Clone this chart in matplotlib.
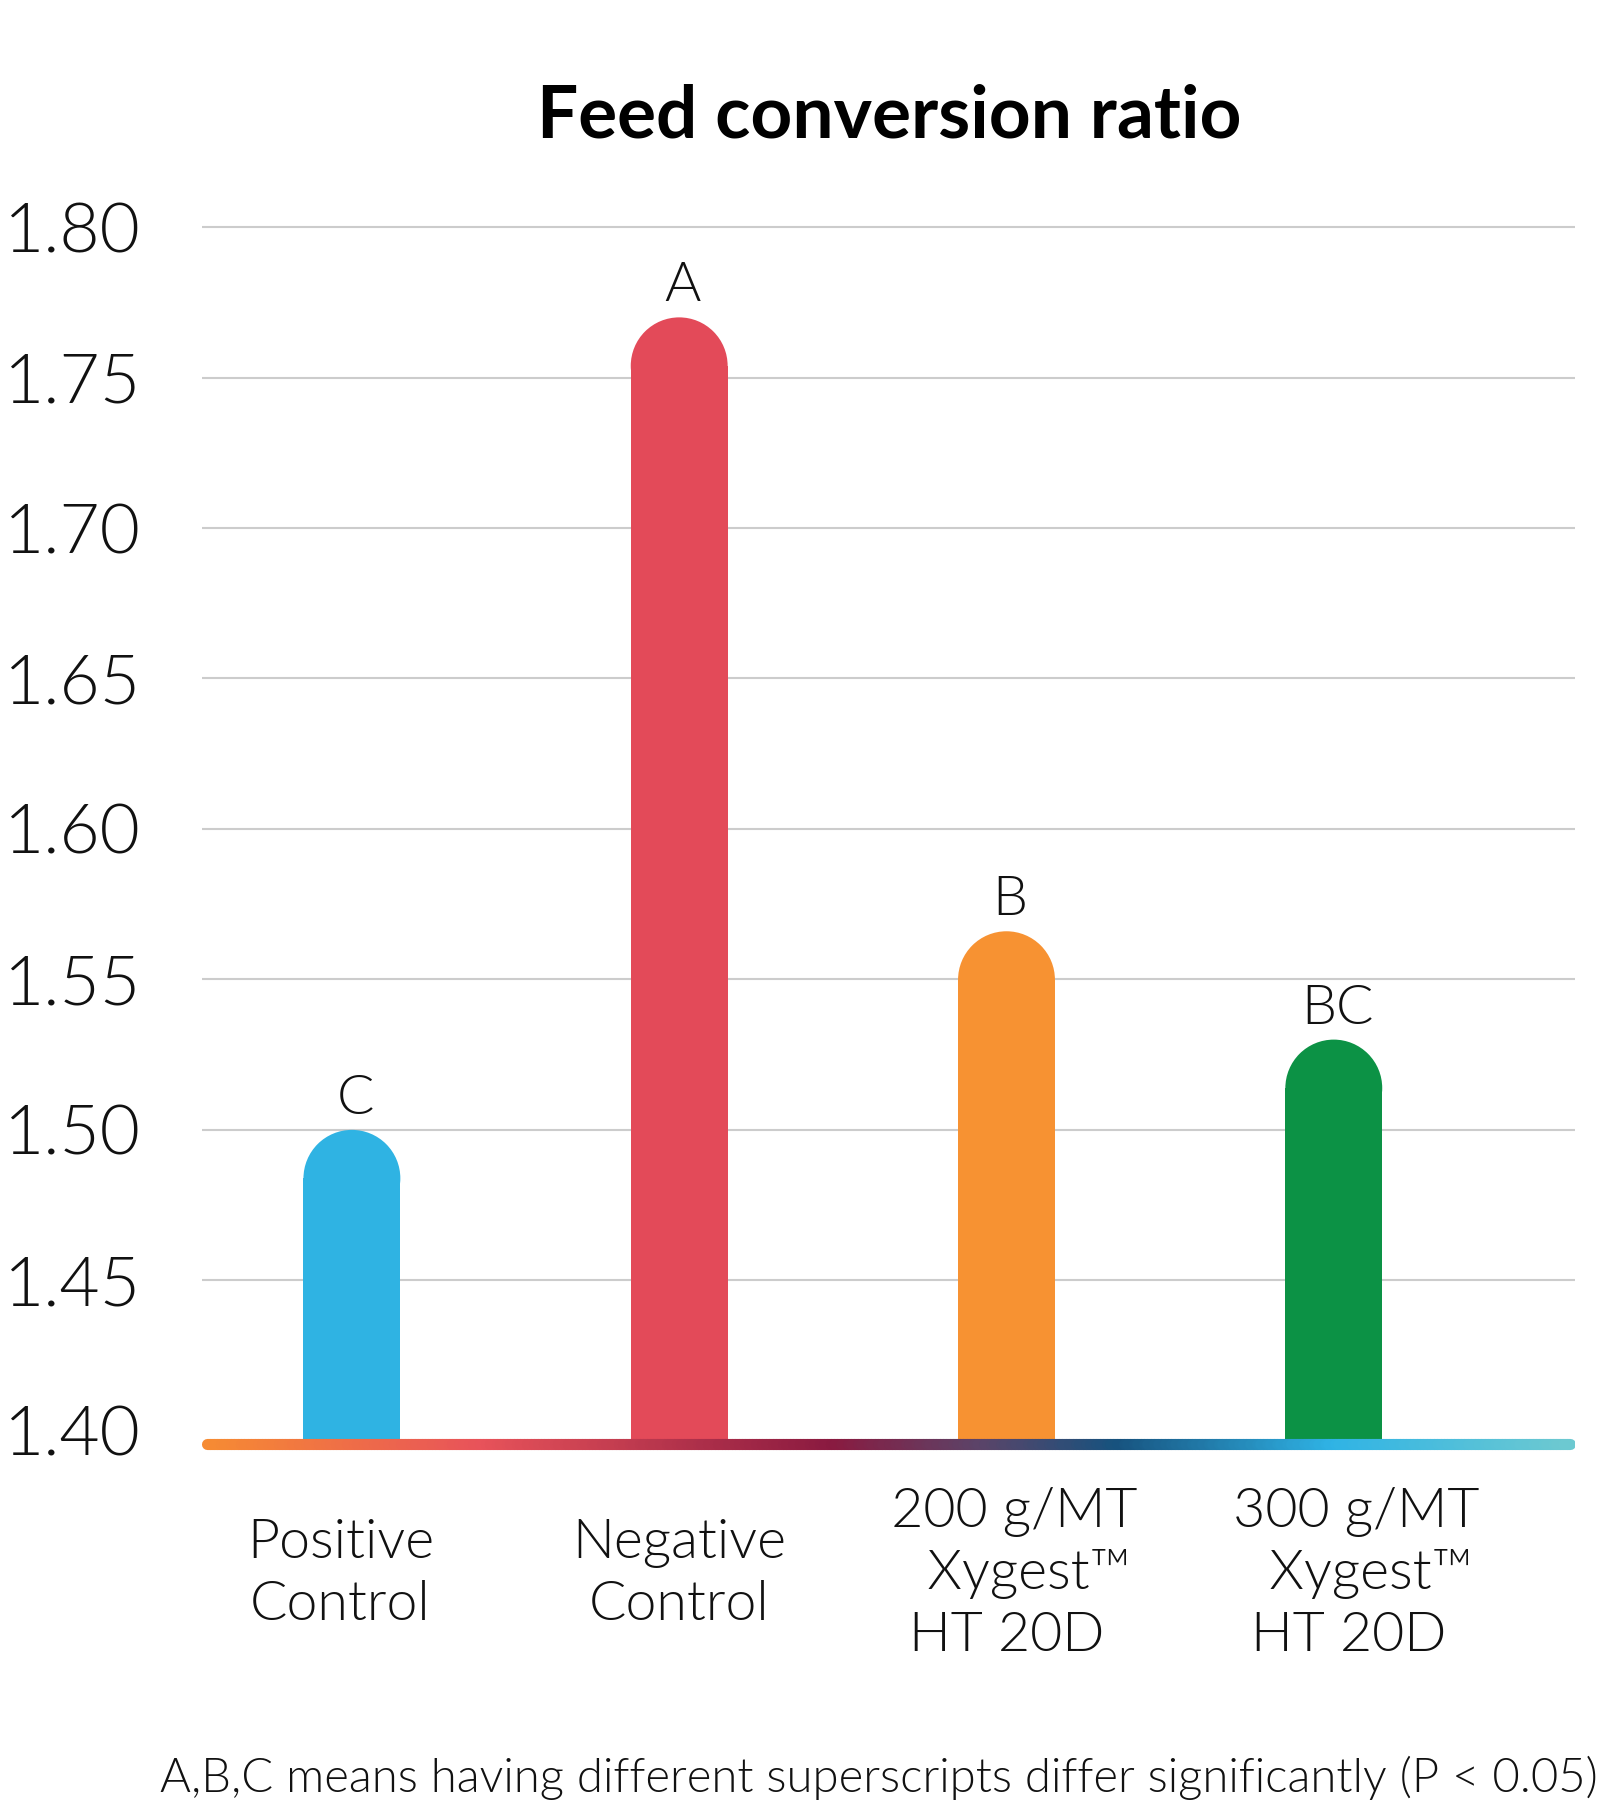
import numpy as np
import matplotlib
matplotlib.use("Agg")
import matplotlib.pyplot as plt
from matplotlib.patches import Ellipse
from matplotlib.collections import LineCollection
from matplotlib.colors import LinearSegmentedColormap

# ---- data ----
categories = ["Positive\nControl", "Negative\nControl",
              " 200 g/MT\n   Xygest\u2122\nHT 20D", " 300 g/MT\n   Xygest\u2122\nHT 20D"]
values = [1.50, 1.77, 1.566, 1.53]
letters = ["C", "A", "B", "BC"]
bar_colors = ["#2FB3E3", "#E34A59", "#F79232", "#0C9245"]
yticks = [1.40, 1.45, 1.50, 1.55, 1.60, 1.65, 1.70, 1.75, 1.80]
title = "Feed conversion ratio"
footnote = "A,B,C means having different superscripts differ significantly (P < 0.05)"

W, H = 1601, 1800
fig = plt.figure(figsize=(W / 100, H / 100), dpi=100)
fig.patch.set_facecolor("white")

# axes layout in pixels
ax_left, ax_right = 202, 1575
ax_top, ax_bottom = 197, 1491
ax = fig.add_axes([ax_left / W, 1 - ax_bottom / H, (ax_right - ax_left) / W, (ax_bottom - ax_top) / H])
ylo, yhi = 1.38, 1.81
xlo, xhi = -0.458, 3.737
ax.set_xlim(xlo, xhi)
ax.set_ylim(ylo, yhi)
for s in ax.spines.values():
    s.set_visible(False)

px_per_x = (ax_right - ax_left) / (xhi - xlo)
px_per_y = (ax_bottom - ax_top) / (yhi - ylo)

font_txt = {"family": ["Lato", "DejaVu Sans"], "weight": 300}

# gridlines
for t in yticks[1:]:
    ax.axhline(t, color="#cccccc", lw=1.5, zorder=0)

x = np.arange(len(values))
bw = 0.296
base = 1.40 - 13 / px_per_y
r_y = (bw / 2) * px_per_x / px_per_y
heights = [v - r_y - base for v in values]
ax.bar(x, heights, width=bw, bottom=base, color=bar_colors, zorder=2, linewidth=0)
for xi, v, c in zip(x, values, bar_colors):
    ax.add_patch(Ellipse((xi, v - r_y), bw, 2 * r_y, facecolor=c, edgecolor="none", zorder=2))

for xi, v, l in zip(x, values, letters):
    ax.text(xi + 0.01, v + 16 / px_per_y, l, ha="center", va="baseline", fontsize=40,
            color="#111111", **font_txt)

# gradient baseline
cmap = LinearSegmentedColormap.from_list("g", [
    (0.0, "#F68B33"), (0.2, "#E8535A"), (0.46, "#8A1A40"), (0.57, "#5B4468"),
    (0.67, "#17527E"), (0.83, "#2FB3E5"), (1.0, "#6CC9D1")])
x0 = xlo + 5 / px_per_x
x1 = xhi - 5 / px_per_x
N = 400
xs = np.linspace(x0, x1, N + 1)
segs = [[(xs[i], base), (xs[i + 1], base)] for i in range(N)]
lc = LineCollection(segs, colors=cmap(np.linspace(0, 1, N)), linewidths=8, capstyle="round", zorder=3)
ax.add_collection(lc)

# y ticks
ax.set_yticks(yticks)
ax.set_yticklabels([f"{t:.2f}" for t in yticks])
ax.tick_params(axis="y", length=0, pad=44)
for lab in ax.get_yticklabels():
    lab.set_fontsize(50)
    lab.set_fontfamily(["Lato", "DejaVu Sans"])
    lab.set_fontweight(300)
    lab.set_color("#111111")

ax.set_xticks([])
# x labels
label_dx = [-0.035, 0.0, 0.0, 0.045]
for xi, lab, dx in zip(x, categories, label_dx):
    if lab.count("\n") == 1:
        ytop = 1518
    else:
        ytop = 1487
    ax.text(xi + dx, ylo - (ytop - ax_bottom) / px_per_y, lab, ha="center", va="top",
            fontsize=40, linespacing=1.3, color="#111111", **font_txt)

fig.text(889 / W, 1 - 117 / H, title, ha="center", va="center", fontsize=52.5,
         fontweight="bold", family=["Lato", "DejaVu Sans"], color="#000000")

fig.text(1598 / W, 1 - 1778 / H, footnote, ha="right", va="center", fontsize=34,
         color="#111111", **font_txt)

fig.savefig("out.png", dpi=100, facecolor="white")
